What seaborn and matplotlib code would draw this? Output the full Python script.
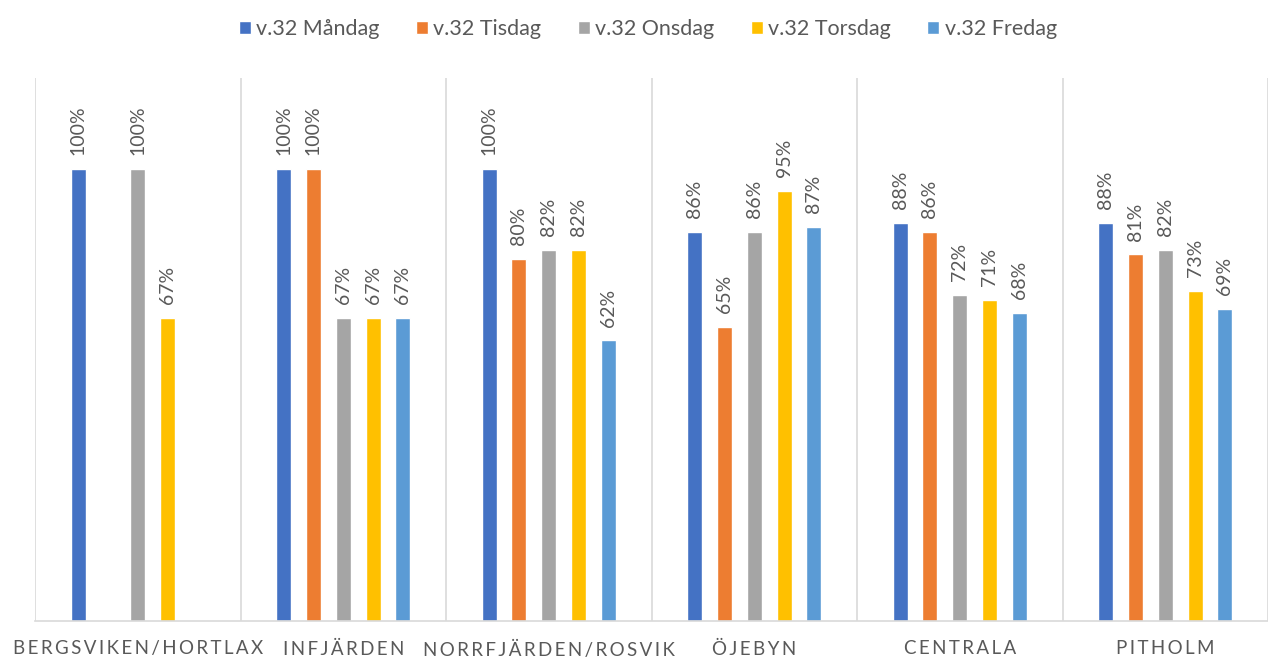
import numpy as np
import pandas as pd
import matplotlib
matplotlib.use("Agg")
import matplotlib.pyplot as plt
import seaborn as sns

sites = ["BERGSVIKEN/HORTLAX", "INFJÄRDEN", "NORRFJÄRDEN/ROSVIK", "ÖJEBYN", "CENTRALA", "PITHOLM"]
days = ["v.32 Måndag", "v.32 Tisdag", "v.32 Onsdag", "v.32 Torsdag", "v.32 Fredag"]
mandag = [1.00, 1.00, 1.00, 0.86, 0.88, 0.88]
tisdag = [np.nan, 1.00, 0.80, 0.65, 0.86, 0.81]
onsdag = [1.00, 0.67, 0.82, 0.86, 0.72, 0.82]
torsdag = [0.67, 0.67, 0.82, 0.95, 0.71, 0.73]
fredag = [np.nan, 0.67, 0.62, 0.87, 0.68, 0.69]
colors = ["#4472C4", "#ED7D31", "#A5A5A5", "#FFC000", "#5B9BD5"]

series = [mandag, tisdag, onsdag, torsdag, fredag]
rows = []
for d, vals in zip(days, series):
    for s, v in zip(sites, vals):
        if not np.isnan(v):
            rows.append({"site": s, "day": d, "value": v})
df = pd.DataFrame(rows)

sns.set_theme(style="white")
plt.rcParams["font.family"] = ["Lato", "DejaVu Sans"]
TXT = "#595959"

fig = plt.figure(figsize=(12.68, 6.60), dpi=100)
ax = fig.add_axes([35 / 1268, 39 / 660, 1233 / 1268, 543 / 660])

sns.barplot(data=df, x="site", y="value", hue="day", order=sites, hue_order=days,
            palette=colors, width=0.726, gap=0.5, ax=ax, errorbar=None, saturation=1)

for c in ax.containers:
    ax.bar_label(c, labels=[f"{v:.0%}" for v in c.datavalues], rotation=90,
                 padding=10, color=TXT, fontsize=14)

ax.set_ylim(0, 1.2)
ax.set_xlim(-0.5, -0.5 + 1233 / 206.5)
ax.set_yticks([])
ax.set_xlabel("")
ax.set_ylabel("")
ax.set_xticks(range(len(sites)))
ax.set_xticklabels(["\u2009".join(s) for s in sites], color=TXT, fontsize=13.5)
ax.tick_params(axis="x", length=0, pad=14)
ax.set_xticks(np.arange(-0.5, len(sites), 1), minor=True)
ax.tick_params(axis="x", which="minor", length=0)
ax.grid(axis="x", which="minor", color="#D9D9D9", linewidth=1.2)
ax.grid(axis="x", which="major", visible=False)
for sp in ["top", "right", "left"]:
    ax.spines[sp].set_visible(False)
ax.spines["bottom"].set_color("#D9D9D9")
ax.spines["bottom"].set_linewidth(1.2)

leg = ax.legend(loc="upper center", bbox_to_anchor=(0.497, 1.145), ncol=5, frameon=False,
                fontsize=15.5, handlelength=0.55, handleheight=0.55, handletextpad=0.25,
                columnspacing=1.7)
for t in leg.get_texts():
    t.set_color(TXT)

fig.savefig("out.png", dpi=100)
